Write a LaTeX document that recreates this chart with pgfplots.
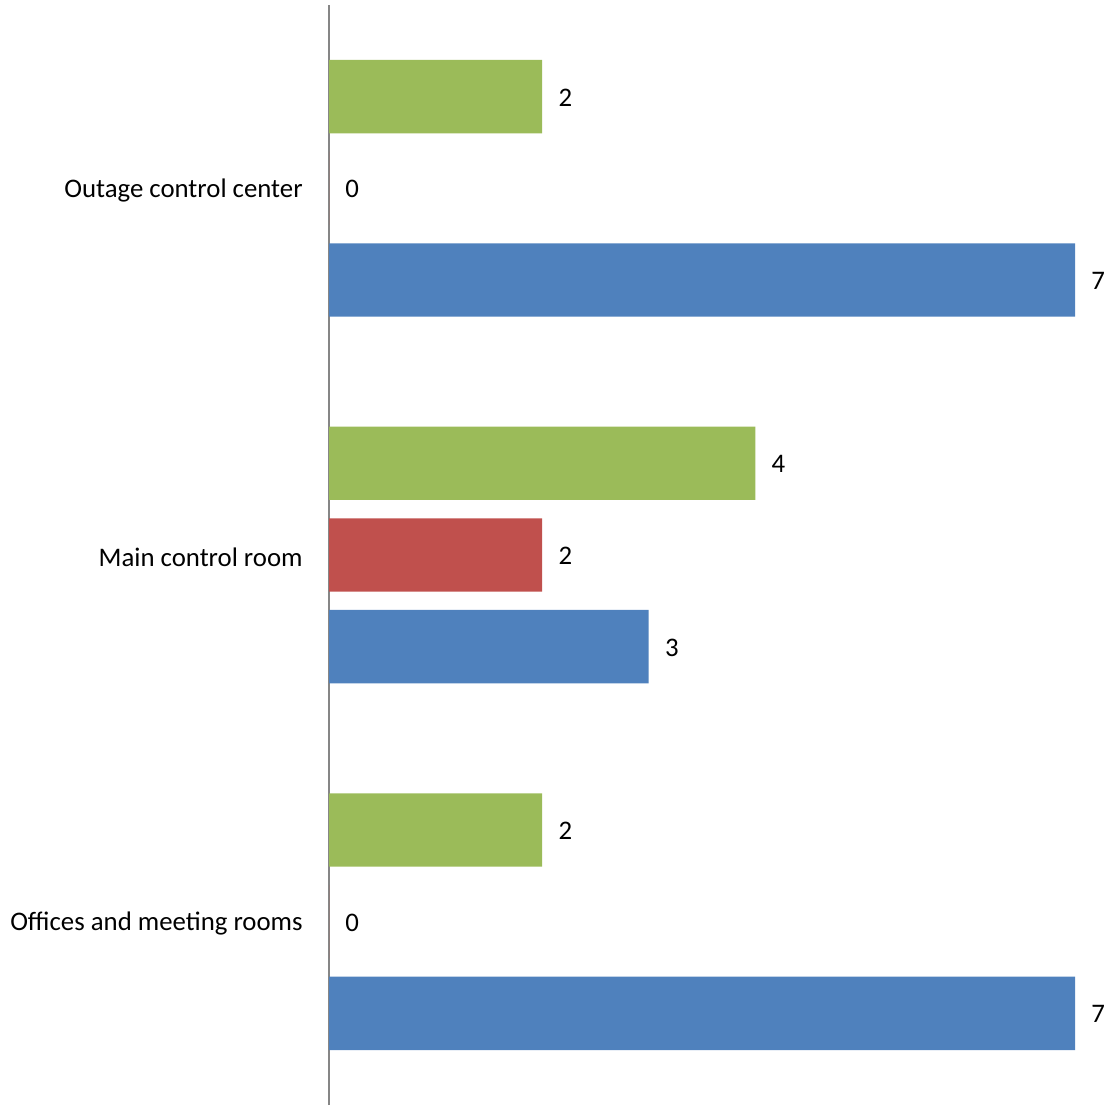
\documentclass[border=0pt]{standalone}
\usepackage{pgfplots}
\pgfplotsset{compat=1.18}
\usepackage{fontspec}
\setmainfont{Carlito}
\definecolor{cblue}{HTML}{4F81BD}
\definecolor{cred}{HTML}{C0504D}
\definecolor{cgreen}{HTML}{9BBB59}
\definecolor{caxis}{HTML}{868686}
\begin{document}
\begin{tikzpicture}
\begin{axis}[
  scale only axis,
  width=373pt, height=550pt,
  xbar, bar width=0.2,
  xmin=0, xmax=7,
  ymin=-0.5, ymax=2.5,
  ytick={0,1,2},
  yticklabels={Offices and meeting rooms, Main control room, Outage control center},
  axis x line=none,
  axis y line*=left,
  y axis line style={draw=caxis, line width=1pt, -},
  major tick length=0pt,
  /pgf/number format/assume math mode=true,
  yticklabel style={font=\fontsize{13.4}{16}\selectfont, anchor=east, inner sep=0pt, xshift=-13pt, yshift=-1pt},
  nodes near coords,
  every node near coord/.append style={font=\fontsize{13.4}{16}\selectfont, anchor=west, inner sep=0pt, xshift=8pt, yshift=-0.5pt, text=black},
  clip=false,
]
\addplot[fill=cblue, draw=none, bar shift=-0.25] coordinates {(7,0) (3,1) (7,2)};
\addplot[fill=cred, draw=none, bar shift=0] coordinates {(0,0) (2,1) (0,2)};
\addplot[fill=cgreen, draw=none, bar shift=0.25] coordinates {(2,0) (4,1) (2,2)};
\coordinate (sw) at (rel axis cs:0,0);
\coordinate (ne) at (rel axis cs:1,1);
\end{axis}
\pgfresetboundingbox
\path[use as bounding box] ([xshift=-164.5pt]sw) rectangle ([xshift=17.5pt,yshift=2.5pt]ne);
\end{tikzpicture}
\end{document}
